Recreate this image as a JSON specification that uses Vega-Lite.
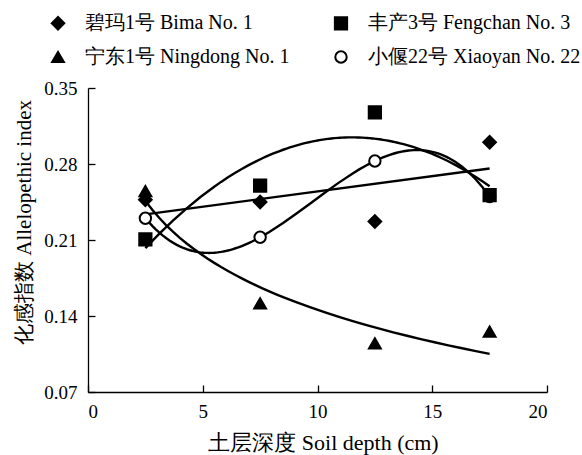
{
  "$schema": "https://vega.github.io/schema/vega-lite/v6.json",
  "width": 459,
  "height": 304,
  "autosize": {"type": "none"},
  "padding": {"left": 88, "top": 88, "right": 35, "bottom": 63},
  "config": {
    "font": "Liberation Serif",
    "view": {"stroke": null},
    "axis": {
      "grid": false,
      "labelFont": "Liberation Serif",
      "titleFont": "Liberation Serif",
      "labelFontSize": 19,
      "titleFontSize": 21,
      "labelColor": "black",
      "titleColor": "black",
      "titleFontWeight": "normal",
      "domainColor": "black",
      "tickColor": "black",
      "domainWidth": 1.3,
      "tickWidth": 1.3,
      "tickSize": -7
    },
    "legend": {
      "labelFont": "Liberation Serif",
      "labelFontSize": 20,
      "labelColor": "black",
      "labelLimit": 400,
      "symbolStrokeColor": "black",
      "symbolStrokeWidth": 2,
      "padding": 0
    }
  },
  "data": {
    "values": [
      {"variety": "小偃22号 Xiaoyan No. 22", "depth": 2.5, "index": 0.230},
      {"variety": "小偃22号 Xiaoyan No. 22", "depth": 7.5, "index": 0.2125},
      {"variety": "小偃22号 Xiaoyan No. 22", "depth": 12.5, "index": 0.2828},
      {"variety": "小偃22号 Xiaoyan No. 22", "depth": 17.5, "index": 0.250},
      {"variety": "宁东1号 Ningdong No. 1", "depth": 2.5, "index": 0.255},
      {"variety": "宁东1号 Ningdong No. 1", "depth": 7.5, "index": 0.1517},
      {"variety": "宁东1号 Ningdong No. 1", "depth": 12.5, "index": 0.1148},
      {"variety": "宁东1号 Ningdong No. 1", "depth": 17.5, "index": 0.1256},
      {"variety": "碧玛1号 Bima No. 1", "depth": 2.5, "index": 0.247},
      {"variety": "碧玛1号 Bima No. 1", "depth": 7.5, "index": 0.245},
      {"variety": "碧玛1号 Bima No. 1", "depth": 12.5, "index": 0.227},
      {"variety": "碧玛1号 Bima No. 1", "depth": 17.5, "index": 0.300},
      {"variety": "丰产3号 Fengchan No. 3", "depth": 2.5, "index": 0.2106},
      {"variety": "丰产3号 Fengchan No. 3", "depth": 7.5, "index": 0.260},
      {"variety": "丰产3号 Fengchan No. 3", "depth": 12.5, "index": 0.3276},
      {"variety": "丰产3号 Fengchan No. 3", "depth": 17.5, "index": 0.2514}
    ]
  },
  "encoding": {
    "x": {
      "field": "depth",
      "type": "quantitative",
      "scale": {"domain": [0, 20], "nice": false},
      "axis": {"values": [0, 5, 10, 15, 20], "title": "土层深度 Soil depth (cm)", "titleFontSize": 22, "labelPadding": 17, "titleX": 235, "titleY": 50, "titleBaseline": "middle"}
    },
    "y": {
      "field": "index",
      "type": "quantitative",
      "scale": {"domain": [0.07, 0.35], "nice": false, "zero": false},
      "axis": {"values": [0.07, 0.14, 0.21, 0.28, 0.35], "format": ".2f", "title": "化感指数 Allelopethic index", "labelPadding": 18, "titleX": -64, "titleY": 134, "titleBaseline": "middle"}
    }
  },
  "layer": [
    {
      "transform": [
        {"filter": "datum.variety === '碧玛1号 Bima No. 1'"},
        {"regression": "index", "on": "depth", "method": "linear"}
      ],
      "mark": {"type": "line", "color": "black", "strokeWidth": 2.4}
    },
    {
      "transform": [
        {"filter": "datum.variety === '丰产3号 Fengchan No. 3'"},
        {"regression": "index", "on": "depth", "method": "poly", "order": 2}
      ],
      "mark": {"type": "line", "color": "black", "strokeWidth": 2.4}
    },
    {
      "transform": [
        {"filter": "datum.variety === '宁东1号 Ningdong No. 1'"},
        {"regression": "index", "on": "depth", "method": "log"}
      ],
      "mark": {"type": "line", "color": "black", "strokeWidth": 2.4}
    },
    {
      "transform": [
        {"filter": "datum.variety === '小偃22号 Xiaoyan No. 22'"},
        {"regression": "index", "on": "depth", "method": "poly", "order": 3}
      ],
      "mark": {"type": "line", "color": "black", "strokeWidth": 2.4}
    },
    {
      "mark": {"type": "point", "strokeWidth": 2, "opacity": 1, "fillOpacity": 1},
      "encoding": {
        "shape": {
          "field": "variety",
          "type": "nominal",
          "scale": {
            "domain": ["碧玛1号 Bima No. 1", "丰产3号 Fengchan No. 3", "宁东1号 Ningdong No. 1", "小偃22号 Xiaoyan No. 22"],
            "range": ["diamond", "square", "triangle-up", "circle"]
          },
          "legend": {
            "orient": "none",
            "direction": "horizontal",
            "legendX": -40,
            "legendY": -75,
            "columns": 2,
            "columnPadding": 40,
            "rowPadding": 13,
            "labelOffset": 17,
            "title": null
          }
        },
        "fill": {
          "field": "variety",
          "type": "nominal",
          "scale": {
            "domain": ["碧玛1号 Bima No. 1", "丰产3号 Fengchan No. 3", "宁东1号 Ningdong No. 1", "小偃22号 Xiaoyan No. 22"],
            "range": ["black", "black", "black", "white"]
          }
        },
        "stroke": {
          "field": "variety",
          "type": "nominal",
          "scale": {
            "domain": ["碧玛1号 Bima No. 1", "丰产3号 Fengchan No. 3", "宁东1号 Ningdong No. 1", "小偃22号 Xiaoyan No. 22"],
            "range": ["black", "black", "black", "black"]
          }
        },
        "size": {
          "field": "variety",
          "type": "nominal",
          "scale": {
            "domain": ["碧玛1号 Bima No. 1", "丰产3号 Fengchan No. 3", "宁东1号 Ningdong No. 1", "小偃22号 Xiaoyan No. 22"],
            "range": [160, 130, 190, 110]
          }
        }
      }
    }
  ]
}
